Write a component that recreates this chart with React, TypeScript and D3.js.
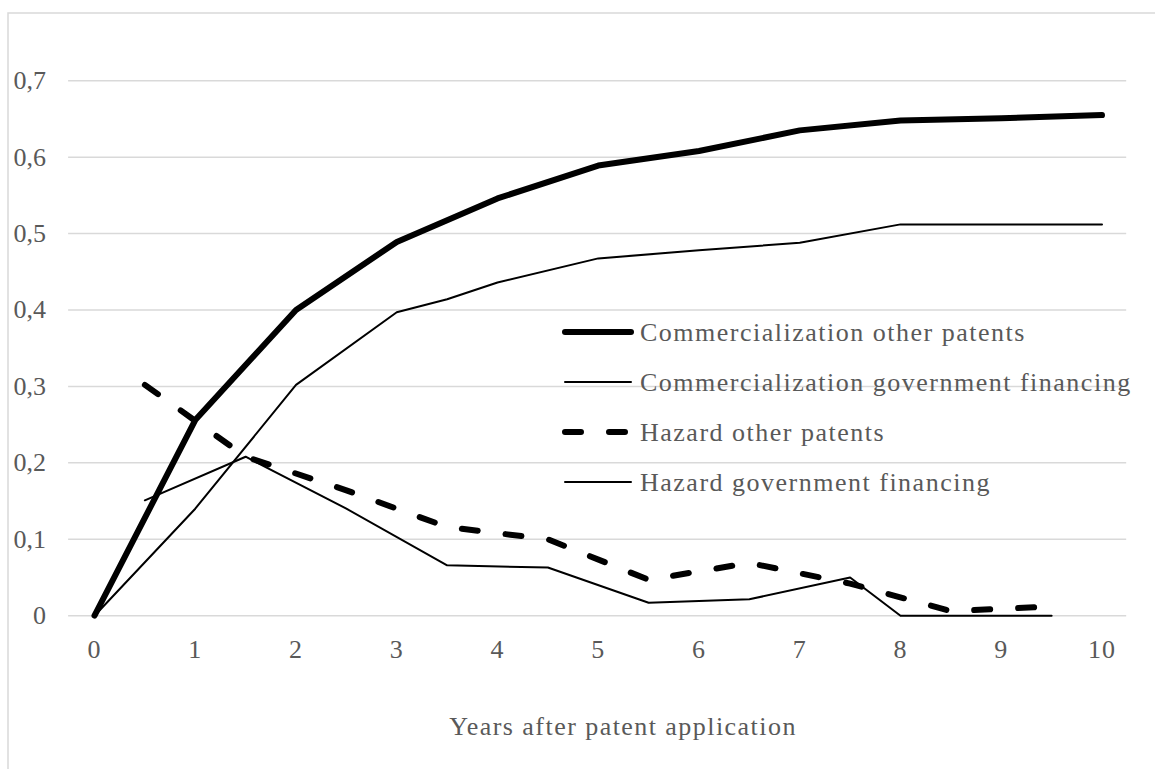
import React from "react";
import * as d3 from "d3";

const yTicks = [0, 0.1, 0.2, 0.3, 0.4, 0.5, 0.6, 0.7];
const xTicks = [0, 1, 2, 3, 4, 5, 6, 7, 8, 9, 10];

const commOtherX = [0, 1, 2, 3, 4, 5, 6, 7, 8, 9, 10];
const commOtherY = [0, 0.256, 0.4, 0.489, 0.546, 0.589, 0.608, 0.635, 0.648, 0.651, 0.655];

const commGovX = [0, 1, 2, 3, 3.5, 4, 5, 6, 7, 8, 9, 10];
const commGovY = [0, 0.14, 0.302, 0.397, 0.414, 0.436, 0.4675, 0.478, 0.488, 0.512, 0.512, 0.512];

const hazOtherX = [0.5, 1.5, 2.5, 3.5, 4.5, 5.5, 6.5, 7.5, 8.5, 9.5];
const hazOtherY = [0.302, 0.208, 0.164, 0.116, 0.1, 0.047, 0.069, 0.042, 0.006, 0.012];

const hazGovX = [0.5, 1.5, 2.5, 3.5, 4.5, 5.5, 6.5, 7.5, 8, 9.5];
const hazGovY = [0.151, 0.208, 0.14, 0.066, 0.063, 0.017, 0.0215, 0.05, 0, 0];

const legendLabels = [
  "Commercialization other patents",
  "Commercialization government financing",
  "Hazard other patents",
  "Hazard government financing",
];

const xTitle = "Years after patent application";

const W = 1155;
const H = 769;
const FONT = "'Liberation Serif', 'Times New Roman', serif";
const TEXT = "#595959";
const GRID = "#d9d9d9";

export default function App() {
  const x = d3.scaleLinear().domain([0, 10]).range([94.5, 1102]);
  const y = d3.scaleLinear().domain([0, 0.7]).range([615.7, 80.7]);
  const gridX0 = x(-0.262);
  const gridX1 = x(10.24);

  const line = d3
    .line<[number, number]>()
    .x((d) => x(d[0]))
    .y((d) => y(d[1]));

  const zip = (xs: number[], ys: number[]) => xs.map((v, i) => [v, ys[i]] as [number, number]);

  const series = [
    { d: zip(commOtherX, commOtherY), w: 6, dash: undefined as string | undefined },
    { d: zip(commGovX, commGovY), w: 2, dash: undefined },
    { d: zip(hazOtherX, hazOtherY), w: 6, dash: "16 28" },
    { d: zip(hazGovX, hazGovY), w: 2, dash: undefined },
  ];

  const legendY = [332, 382, 432, 482];

  return (
    <svg
      width={W}
      height={H}
      style={{ position: "absolute", left: 0, top: 0, background: "#fff" }}
    >
      <rect x={8} y={13} width={1160} height={780} fill="#fff" stroke={GRID} strokeWidth={1.5} />
      {yTicks.map((t) => (
        <g key={t}>
          <line x1={gridX0} x2={gridX1} y1={y(t)} y2={y(t)} stroke={GRID} strokeWidth={1.5} />
          <text
            x={46}
            y={y(t)}
            textAnchor="end"
            dominantBaseline="central"
            fontFamily={FONT}
            fontSize={26}
            fill={TEXT}
          >
            {t === 0 ? "0" : d3.format(".1f")(t).replace(".", ",")}
          </text>
        </g>
      ))}
      {xTicks.map((t) => (
        <text
          key={t}
          x={x(t)}
          y={649}
          textAnchor="middle"
          dominantBaseline="central"
          fontFamily={FONT}
          fontSize={26}
          letterSpacing={1}
          fill={TEXT}
        >
          {t}
        </text>
      ))}
      <text
        x={623}
        y={735}
        textAnchor="middle"
        fontFamily={FONT}
        fontSize={26}
        letterSpacing={1.45}
        fill={TEXT}
      >
        {xTitle}
      </text>
      {series.map((s, i) => (
        <path
          key={i}
          d={line(s.d) || ""}
          fill="none"
          stroke="#000"
          strokeWidth={s.w}
          strokeDasharray={s.dash}
          strokeLinecap="round"
          strokeLinejoin="round"
        />
      ))}
      {legendLabels.map((lab, i) => (
        <g key={lab}>
          <line
            x1={565}
            x2={631}
            y1={legendY[i]}
            y2={legendY[i]}
            stroke="#000"
            strokeWidth={series[i].w}
            strokeDasharray={series[i].dash}
            strokeLinecap="round"
          />
          <text
            x={640}
            y={legendY[i]}
            dominantBaseline="central"
            fontFamily={FONT}
            fontSize={26}
            letterSpacing={1.5}
            fill={TEXT}
          >
            {lab}
          </text>
        </g>
      ))}
    </svg>
  );
}
